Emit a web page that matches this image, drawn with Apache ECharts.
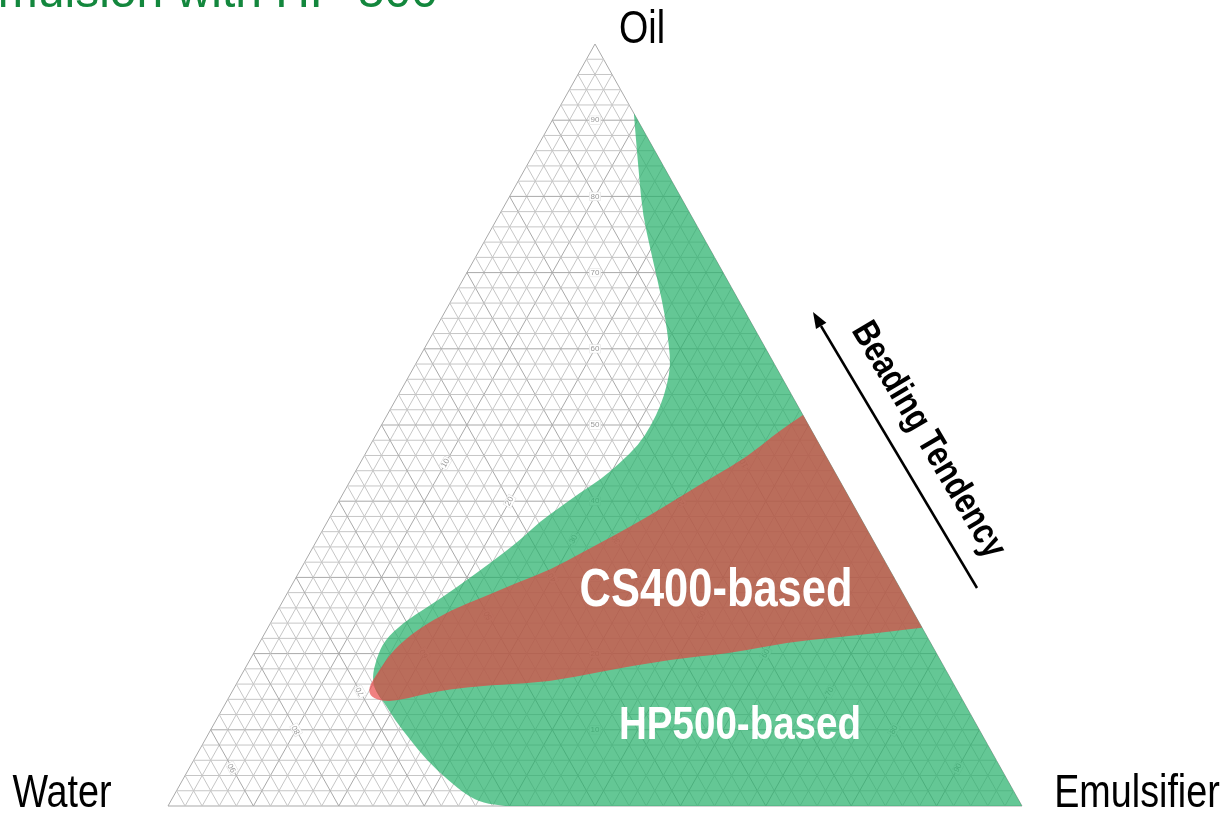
<!DOCTYPE html>
<html>
<head>
<meta charset="utf-8">
<script src="https://cdn.jsdelivr.net/npm/echarts@6/dist/echarts.min.js"></script>
<style>
html,body{margin:0;padding:0;background:#fff;}
#chart{width:1227px;height:814px;}
</style>
</head>
<body>
<div id="chart"></div>
<script>
// ---- data (ternary compositions, %) ----
const tickLabels = [10, 20, 30, 40, 50, 60, 70, 80, 90];
const gridStep = 2;
const axisNames = ['Oil', 'Water', 'Emulsifier'];

// HP500-based region boundary: oil %, emulsifier % (water = 100 - oil - emulsifier)
const hp500Oil = [90.9, 87.4, 82.2, 77.6, 73.0, 68.6, 64.4, 60.5, 57.9, 55.3, 52.6, 50.0, 47.4, 45.0, 42.8, 41.1, 39.2, 37.4, 34.9, 31.9, 28.7, 26.1, 24.0, 21.8, 19.4, 16.8, 15.0, 13.7, 11.3, 8.7, 6.0, 3.4, 1.4, 0.4, 0];
const hp500Emulsifier = [9.1, 11.1, 14.1, 16.8, 20.0, 23.1, 26.0, 28.4, 29.9, 30.8, 31.4, 31.6, 31.4, 30.4, 29.2, 27.7, 26.3, 24.9, 23.8, 21.8, 19.5, 17.3, 15.5, 14.5, 14.7, 15.5, 16.8, 18.4, 20.9, 24.0, 27.3, 31.1, 34.3, 36.7, 39.5];
const hp500Corners = [[0, 100]]; // Emulsifier corner closes the region

// CS400-based region boundary
const cs400Oil = [51.3, 49.3, 45.8, 43.2, 40.6, 37.9, 35.6, 33.3, 31.0, 29.3, 27.4, 25.7, 23.1, 20.5, 17.5, 15.5, 14.3, 13.7, 13.9, 15.0, 15.6, 15.9, 16.3, 17.6, 19.2, 20.1, 21.4, 22.1, 22.8, 23.4];
const cs400Emulsifier = [48.7, 47.0, 44.9, 42.2, 39.7, 37.1, 34.6, 31.9, 29.3, 26.2, 23.2, 20.2, 17.6, 16.1, 15.8, 15.7, 16.6, 18.4, 20.2, 23.6, 27.2, 30.9, 36.6, 41.8, 48.9, 56.1, 61.3, 66.9, 72.3, 76.6];
const cs400Corners = [];

// ---- helpers ----
function toXY(oil, emul) { return [emul + oil / 2, oil]; }

const gridData = [];
for (let v = 0; v < 100; v += gridStep) {
  for (let k = 0; k < 3; k++) gridData.push([k, v]);
}
const labelData = [];
tickLabels.forEach(v => { for (let k = 0; k < 3; k++) labelData.push([k, v]); });

const chart = echarts.init(document.getElementById('chart'), null, {renderer: 'canvas'});

function regionSeries(name, oils, emuls, corners, color, z) {
  return {
    type: 'custom', name: name, z: z, silent: true,
    coordinateSystem: 'cartesian2d',
    data: [[0, 0]],
    clip: false,
    renderItem: function (params, api) {
      const pts = oils.map((o, i) => api.coord(toXY(o, emuls[i])));
      const f = n => n.toFixed(2);
      let d = 'M' + f(pts[0][0]) + ' ' + f(pts[0][1]);
      for (let i = 1; i < pts.length - 1; i++) {
        const mx = (pts[i][0] + pts[i + 1][0]) / 2, my = (pts[i][1] + pts[i + 1][1]) / 2;
        d += ' Q' + f(pts[i][0]) + ' ' + f(pts[i][1]) + ' ' + f(mx) + ' ' + f(my);
      }
      const last = pts[pts.length - 1];
      d += ' L' + f(last[0]) + ' ' + f(last[1]);
      corners.forEach(c => { const p = api.coord(toXY(c[0], c[1])); d += ' L' + f(p[0]) + ' ' + f(p[1]); });
      d += ' Z';
      return {type: 'path', shape: {pathData: d}, style: {fill: color}};
    }
  };
}

const sansFont = '"Liberation Sans", Arial, sans-serif';
const narrow = 0.82;

const option = {
  animation: false,
  grid: {left: 168, right: 205, top: 44, bottom: 8, containLabel: false},
  xAxis: {type: 'value', min: 0, max: 100, show: false},
  yAxis: {type: 'value', min: 0, max: 100, show: false},
  series: [
    {
      type: 'custom', name: 'grid', z: 1, silent: true, clip: false,
      data: gridData,
      renderItem: function (params, api) {
        const k = api.value(0), v = api.value(1);
        let a, b;
        if (k === 0) { a = toXY(v, 0); b = toXY(v, 100 - v); }
        else if (k === 1) { a = toXY(0, v); b = toXY(100 - v, v); }
        else { a = toXY(0, 100 - v); b = toXY(100 - v, 0); }
        const p1 = api.coord(a), p2 = api.coord(b);
        const major = v % 10 === 0;
        return {type: 'line', shape: {x1: p1[0], y1: p1[1], x2: p2[0], y2: p2[1]},
          style: {stroke: major ? '#a9a9a9' : '#c6c6c6', lineWidth: 1}};
      }
    },
    {
      type: 'custom', name: 'ticks', z: 2, silent: true, clip: false,
      data: labelData,
      renderItem: function (params, api) {
        const k = api.value(0), v = api.value(1);
        const half = (100 - v) / 2;
        const c0 = api.coord([0, 0]), cTop = api.coord([50, 100]);
        const angL = Math.atan2(c0[1] - cTop[1], cTop[0] - c0[0]);
        let p, rot = 0;
        if (k === 0) { p = api.coord(toXY(v, half)); rot = 0; }           // Oil = v
        else if (k === 1) { p = api.coord(toXY(half, half)); rot = Math.PI - angL; } // Water = v
        else { p = api.coord(toXY(half, v)); rot = angL; }                 // Emulsifier = v
        return {type: 'text', x: p[0], y: p[1], rotation: rot,
          style: {text: String(v), fontSize: 8, fontFamily: sansFont, fill: '#999999',
            align: 'center', verticalAlign: 'middle', backgroundColor: '#ffffff',
            borderColor: '#dddddd', borderWidth: 0.5, padding: [0, 1]}};
      }
    },
    regionSeries('HP500-based', hp500Oil, hp500Emulsifier, hp500Corners, 'rgba(40,178,108,0.72)', 3),
    regionSeries('CS400-based', cs400Oil, cs400Emulsifier, cs400Corners, 'rgba(232,62,62,0.66)', 4)
  ],
  graphic: [
    {type: 'text', x: 438, y: -6, z: 10, style: {text: 'Emulsion with HP-500', font: '48px ' + sansFont, fill: '#13873d', align: 'right', verticalAlign: 'middle'}},
    {type: 'text', x: 642, y: 30, z: 10, scaleX: narrow, style: {text: axisNames[0], font: '46px ' + sansFont, fill: '#000', align: 'center', verticalAlign: 'middle'}},
    {type: 'text', x: 62, y: 794, z: 10, scaleX: narrow, style: {text: axisNames[1], font: '46px ' + sansFont, fill: '#000', align: 'center', verticalAlign: 'middle'}},
    {type: 'text', x: 1137, y: 794, z: 10, scaleX: narrow, style: {text: axisNames[2], font: '46px ' + sansFont, fill: '#000', align: 'center', verticalAlign: 'middle'}},
    {type: 'text', x: 716, y: 591, z: 10, scaleX: narrow, style: {text: 'CS400-based', font: 'bold 53px ' + sansFont, fill: '#fff', align: 'center', verticalAlign: 'middle'}},
    {type: 'text', x: 740, y: 726, z: 10, scaleX: narrow, style: {text: 'HP500-based', font: 'bold 47px ' + sansFont, fill: '#fff', align: 'center', verticalAlign: 'middle'}},
    {type: 'text', x: 928, y: 440, z: 10, scaleX: narrow, rotation: -59.3 * Math.PI / 180, style: {text: 'Beading Tendency', font: 'bold 37px ' + sansFont, fill: '#000', align: 'center', verticalAlign: 'middle'}},
    {type: 'line', z: 10, shape: {x1: 977, y1: 588, x2: 821, y2: 326}, style: {stroke: '#000', lineWidth: 2.5}},
    {type: 'polygon', z: 10, shape: {points: [[813, 312], [826.4, 322.7], [816.0, 328.9]]}, style: {fill: '#000'}}
  ]
};
chart.setOption(option);
</script>
</body>
</html>
